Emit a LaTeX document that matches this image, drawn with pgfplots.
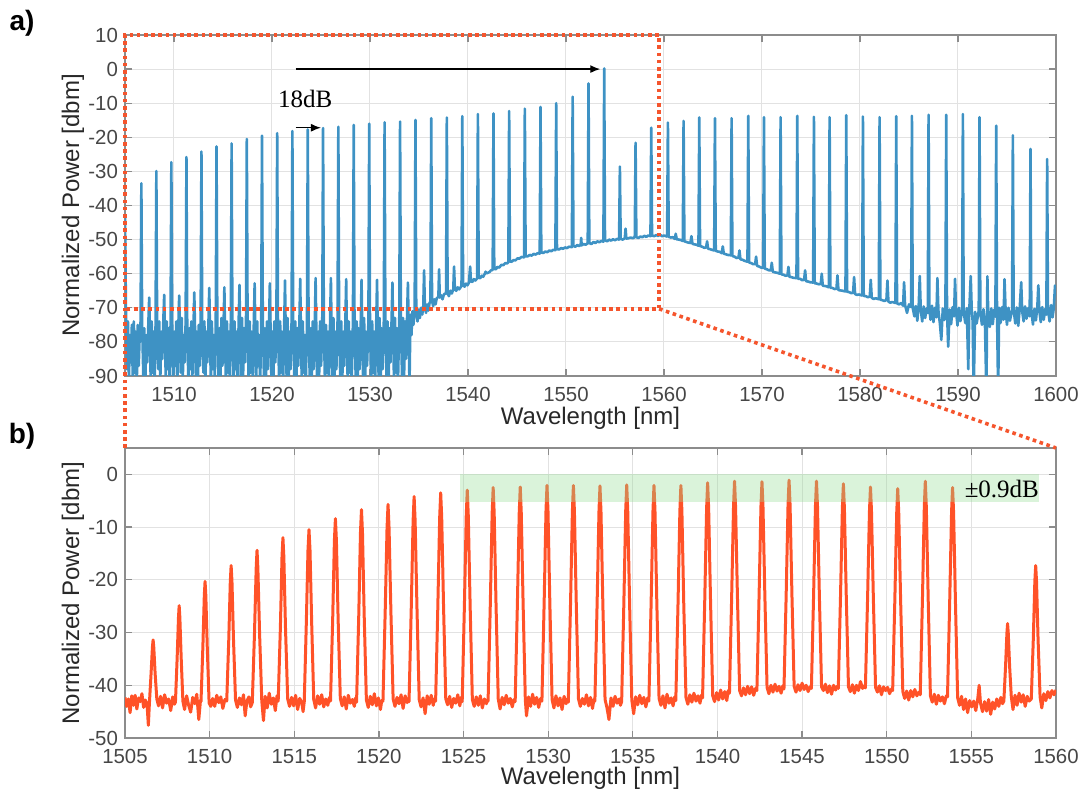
\documentclass[border=0pt]{standalone}
\usepackage{fontspec}
\setmainfont{Liberation Sans}
\newfontfamily\annfont{Liberation Serif}
\usepackage{pgfplots}
\pgfplotsset{compat=1.18}
\usetikzlibrary{arrows.meta}

\definecolor{tickgray}{RGB}{70,70,70}
\definecolor{labgray}{RGB}{40,40,40}
\definecolor{axgray}{RGB}{140,140,140}
\definecolor{gridgray}{RGB}{226,226,226}
\definecolor{specblue}{RGB}{62,146,196}
\definecolor{specred}{RGB}{255,82,40}
\definecolor{dotred}{RGB}{245,85,45}
\definecolor{bandgreen}{RGB}{150,220,150}

\pgfplotsset{
  spec/.style={
    scale only axis, anchor=south west,
    axis line style={axgray, line width=0.6pt},
    grid=major, major grid style={gridgray, line width=0.5pt},
    tick align=inside, major tick length=3.5pt,
    tick style={axgray, line width=0.6pt},
    tick label style={font=\fontsize{10.2}{12}\selectfont, text=tickgray},
    xticklabel style={yshift=-2pt},
    label style={font=\fontsize{12}{14}\selectfont, text=labgray},
    /pgf/number format/assume math mode=true,
    /pgf/number format/1000 sep={},
  },
}

\begin{document}
\begin{tikzpicture}
\path[use as bounding box] (0,0) rectangle (539pt,396pt);
\node[font=\bfseries\fontsize{14}{16}\selectfont] at (11pt,384.5pt) {a)};
\node[font=\bfseries\fontsize{14}{16}\selectfont] at (11pt,178pt) {b)};

% ---------------- panel a ----------------
\begin{axis}[spec,
  at={(62.5pt,208pt)}, width=465.5pt, height=170.5pt,
  xmin=1505, xmax=1600, ymin=-90, ymax=10,
  xtick={1510,1520,...,1600}, ytick={-90,-80,...,10},
  xlabel={Wavelength [nm]}, ylabel={Normalized Power [dbm]},
  xlabel style={at={(axis description cs:0.5,-0.123)}, anchor=center},
  ylabel style={at={(axis description cs:-0.056,0.5)}, anchor=center},
]
\addplot[specblue, line width=1.3pt, line join=round] coordinates {
(1505.0,-43)(1505.06,-60)(1505.12,-76)(1505.2,-88)(1505.3,-74)(1505.4,-91)(1505.5,-78)(1505.6,-86)(1505.7,-75)(1505.8,-92)(1505.9,-74)(1506.0,-89)(1506.1,-77)(1506.2,-93)(1506.3,-75)(1506.4,-87)(1506.5,-78)(1506.59,-74)
(1506.67,-33.5)(1506.75,-75)
(1506.87,-90)(1506.97,-76)(1507.07,-93)(1507.17,-78)(1507.27,-86)(1507.39,-74)(1507.47,-67)(1507.53,-75)(1507.62,-91)(1507.72,-74)(1507.82,-89)(1507.92,-77)(1508.02,-93)(1508.12,-75)
(1508.20,-29.9)(1508.28,-76)
(1508.40,-88)(1508.50,-74)(1508.60,-92)(1508.70,-77)(1508.80,-85)(1508.92,-73)(1509.00,-66.2)(1509.06,-75)(1509.16,-91)(1509.26,-74)(1509.36,-88)(1509.46,-76)(1509.56,-93)(1509.65,-75)
(1509.73,-27.3)(1509.81,-74)
(1509.93,-91)(1510.03,-77)(1510.13,-87)(1510.23,-74)(1510.33,-93)(1510.45,-75)(1510.53,-66.4)(1510.59,-76)(1510.69,-89)(1510.79,-73)(1510.89,-92)(1510.99,-78)(1511.09,-86)(1511.19,-74)
(1511.27,-25.8)(1511.35,-75)
(1511.47,-92)(1511.57,-76)(1511.67,-88)(1511.77,-74)(1511.87,-91)(1511.99,-76)(1512.07,-65.5)(1512.13,-74)(1512.23,-90)(1512.33,-77)(1512.43,-93)(1512.53,-75)(1512.63,-87)(1512.72,-74)
(1512.80,-24.2)(1512.88,-76)
(1513.00,-89)(1513.10,-74)(1513.20,-93)(1513.30,-77)(1513.40,-86)(1513.52,-74)(1513.60,-64.2)(1513.66,-75)(1513.76,-92)(1513.86,-74)(1513.96,-88)(1514.06,-78)(1514.16,-91)(1514.26,-75)
(1514.34,-22.7)(1514.42,-74)
(1514.54,-90)(1514.64,-76)(1514.74,-92)(1514.84,-73)(1514.94,-87)(1515.06,-75)(1515.14,-64.0)(1515.20,-76)(1515.30,-93)(1515.40,-74)(1515.50,-89)(1515.60,-77)(1515.70,-92)(1515.80,-74)
(1515.88,-21.8)(1515.96,-75)
(1516.08,-91)(1516.18,-74)(1516.28,-88)(1516.38,-77)(1516.48,-93)(1516.60,-74)(1516.68,-63.3)(1516.74,-75)(1516.84,-90)(1516.94,-73)(1517.04,-92)(1517.14,-76)(1517.24,-86)(1517.35,-74)
(1517.43,-20.5)(1517.51,-76)
(1517.63,-93)(1517.73,-74)(1517.83,-89)(1517.93,-77)(1518.03,-91)(1518.15,-74)(1518.23,-62.8)(1518.29,-75)(1518.39,-92)(1518.49,-74)(1518.59,-87)(1518.69,-78)(1518.79,-93)(1518.90,-75)
(1518.98,-19.5)(1519.06,-74)
(1519.18,-90)(1519.28,-76)(1519.38,-93)(1519.48,-74)(1519.58,-88)(1519.70,-75)(1519.78,-62.8)(1519.84,-74)(1519.94,-91)(1520.04,-77)(1520.14,-92)(1520.24,-74)(1520.34,-86)(1520.45,-75)
(1520.53,-18.8)(1520.61,-75)
(1520.73,-92)(1520.83,-74)(1520.93,-89)(1521.03,-77)(1521.13,-93)(1521.25,-74)(1521.33,-62.0)(1521.39,-76)(1521.49,-90)(1521.59,-73)(1521.69,-92)(1521.79,-77)(1521.89,-88)(1522.00,-74)
(1522.08,-18.2)(1522.16,-75)
(1522.28,-91)(1522.38,-74)(1522.48,-93)(1522.58,-76)(1522.68,-87)(1522.80,-74)(1522.88,-61.5)(1522.94,-75)(1523.04,-92)(1523.14,-74)(1523.24,-89)(1523.34,-78)(1523.44,-93)(1523.57,-75)
(1523.65,-17.7)(1523.73,-74)
(1523.85,-90)(1523.95,-76)(1524.05,-92)(1524.15,-74)(1524.25,-88)(1524.37,-75)(1524.45,-61.3)(1524.51,-74)(1524.61,-93)(1524.71,-77)(1524.81,-90)(1524.91,-74)(1525.01,-87)(1525.13,-75)
(1525.21,-17.3)(1525.29,-74)
(1525.41,-93)(1525.51,-75)(1525.61,-89)(1525.71,-77)(1525.81,-92)(1525.93,-74)(1526.01,-61.3)(1526.07,-75)(1526.17,-90)(1526.27,-73)(1526.37,-93)(1526.47,-77)(1526.57,-88)(1526.69,-74)
(1526.77,-16.9)(1526.85,-75)
(1526.97,-91)(1527.07,-74)(1527.17,-92)(1527.27,-77)(1527.37,-87)(1527.49,-74)(1527.57,-61.6)(1527.63,-75)(1527.73,-93)(1527.83,-74)(1527.93,-89)(1528.03,-77)(1528.13,-92)(1528.26,-74)
(1528.34,-16.4)(1528.42,-75)
(1528.54,-90)(1528.64,-74)(1528.74,-93)(1528.84,-76)(1528.94,-88)(1529.06,-74)(1529.14,-61.8)(1529.20,-75)(1529.30,-91)(1529.40,-73)(1529.50,-92)(1529.60,-77)(1529.70,-87)(1529.84,-74)
(1529.92,-16.0)(1530.00,-75)
(1530.12,-92)(1530.22,-74)(1530.32,-89)(1530.42,-77)(1530.52,-93)(1530.64,-74)(1530.72,-61.8)(1530.78,-75)(1530.88,-90)(1530.98,-73)(1531.08,-93)(1531.18,-76)(1531.28,-88)(1531.41,-74)
(1531.49,-15.6)(1531.57,-75)
(1531.69,-91)(1531.79,-74)(1531.89,-93)(1531.99,-76)(1532.09,-86)(1532.21,-73)(1532.29,-62.6)(1532.35,-74)(1532.45,-92)(1532.55,-73)(1532.65,-89)(1532.75,-76)(1532.85,-93)(1532.99,-73)
(1533.07,-15.4)(1533.15,-74)
(1533.27,-90)(1533.37,-73)(1533.47,-92)(1533.57,-74)(1533.67,-85)(1533.79,-72)(1533.87,-62.6)(1533.93,-73)(1534.03,-93)(1534.13,-72)(1534.23,-78)(1534.33,-71)(1534.43,-75)(1534.56,-71)
(1534.64,-14.9)(1534.72,-71)
(1534.85,-74)(1534.97,-70.5)(1535.09,-73)(1535.21,-70)(1535.33,-72)(1535.44,-69.6)(1535.52,-59.0)(1535.60,-70)(1535.72,-71.5)(1535.84,-69)(1535.96,-70.8)(1536.08,-68.5)(1536.17,-68.3)
(1536.25,-14.4)(1536.33,-68)
(1536.45,-69.5)(1536.57,-67.5)(1536.69,-69)(1536.81,-67.2)(1536.98,-66.8)(1537.05,-58.7)(1537.12,-67)(1537.25,-66.3)(1537.40,-67.5)(1537.55,-66.0)(1537.76,-65.8)
(1537.84,-14.2)(1537.92,-65.6)
(1538.05,-66.6)(1538.2,-65.0)(1538.35,-65.8)(1538.5,-64.5)(1538.58,-57.9)(1538.66,-64.6)(1538.8,-65.0)(1538.95,-64.0)(1539.1,-64.6)(1539.34,-63.6)
(1539.42,-13.8)(1539.50,-63.4)
(1539.65,-63.8)(1539.8,-62.9)(1539.95,-63.4)(1540.1,-62.6)(1540.22,-57.9)(1540.3,-62.3)(1540.45,-62.4)(1540.6,-61.6)(1540.75,-62.0)(1540.93,-61.4)
(1541.01,-13.2)(1541.09,-61.2)
(1541.25,-61.3)(1541.4,-60.6)(1541.55,-60.9)(1541.72,-60.0)(1541.8,-59.4)(1541.88,-59.9)(1542.05,-59.7)(1542.2,-59.5)(1542.35,-59.0)(1542.52,-58.9)
(1542.6,-13.0)(1542.68,-58.6)
(1542.85,-58.7)(1543.0,-58.0)(1543.2,-58.2)(1543.4,-57.4)(1543.6,-57.5)(1543.8,-56.9)(1544.0,-57.0)(1544.12,-56.6)
(1544.2,-12.3)(1544.28,-56.4)
(1544.45,-56.5)(1544.65,-56.0)(1544.85,-56.1)(1545.05,-55.5)(1545.25,-55.6)(1545.45,-55.1)(1545.72,-55.2)
(1545.8,-11.6)(1545.88,-54.9)
(1546.1,-54.9)(1546.3,-54.5)(1546.5,-54.7)(1546.7,-54.2)(1546.9,-54.4)(1547.1,-54.0)(1547.32,-54.1)
(1547.4,-11.1)(1547.48,-53.8)
(1547.7,-53.9)(1547.9,-53.5)(1548.1,-53.7)(1548.3,-53.2)(1548.5,-53.4)(1548.7,-53.0)(1548.92,-53.1)
(1549.0,-10.0)(1549.08,-52.8)
(1549.3,-52.9)(1549.5,-52.5)(1549.7,-52.7)(1549.9,-52.3)(1550.1,-52.5)(1550.3,-52.1)(1550.6,-52.2)
(1550.68,-8.1)(1550.76,-51.9)
(1550.95,-52.1)(1551.15,-51.6)(1551.35,-51.9)(1551.5,-51.5)(1551.55,-49.5)(1551.6,-51.7)(1551.8,-51.3)(1552.0,-51.5)(1552.22,-51.1)
(1552.3,-4.2)(1552.38,-51.0)
(1552.6,-51.3)(1552.8,-50.7)(1553.0,-51.0)(1553.2,-50.5)(1553.4,-50.8)(1553.6,-50.4)(1553.82,-50.6)
(1553.9,0.2)(1553.98,-50.2)
(1554.2,-50.5)(1554.4,-50.0)(1554.6,-50.3)(1554.8,-49.9)(1555.0,-50.2)(1555.2,-49.8)(1555.42,-50.0)
(1555.5,-28.6)(1555.58,-49.8)
(1555.8,-50.0)(1556.0,-49.6)(1556.08,-46.8)(1556.16,-49.7)(1556.4,-49.6)(1556.6,-49.4)(1556.8,-49.6)(1557.02,-49.3)
(1557.1,-21.6)(1557.18,-49.3)
(1557.4,-49.5)(1557.6,-49.1)(1557.8,-49.3)(1558.0,-48.9)(1558.2,-49.2)(1558.4,-48.8)(1558.62,-49.0)
(1558.7,-17.2)(1558.78,-48.8)
(1559.0,-49.0)(1559.2,-48.7)(1559.4,-48.9)(1559.6,-48.6)(1559.8,-49.0)(1560.0,-48.8)(1560.32,-49.1)
(1560.4,-15.7)(1560.48,-49.2)
(1560.7,-49.4)(1560.9,-49.3)(1561.1,-49.8)(1561.2,-48.3)(1561.3,-49.9)(1561.5,-50.0)(1561.7,-50.1)(1561.92,-50.4)
(1562.0,-15.2)(1562.08,-50.5)
(1562.3,-50.7)(1562.5,-50.9)(1562.7,-51.0)(1562.8,-49.0)(1562.9,-51.2)(1563.1,-51.4)(1563.3,-51.5)(1563.52,-51.8)
(1563.6,-14.2)(1563.68,-51.9)
(1563.9,-52.1)(1564.1,-52.4)(1564.3,-52.3)(1564.4,-50.5)(1564.5,-52.7)(1564.7,-52.8)(1564.9,-53.0)(1565.12,-53.2)
(1565.2,-14.4)(1565.28,-53.3)
(1565.5,-53.5)(1565.7,-53.6)(1565.9,-54.0)(1566.0,-52.0)(1566.1,-54.1)(1566.3,-54.3)(1566.5,-54.5)(1566.82,-54.6)
(1566.9,-14.4)(1566.98,-54.8)
(1567.2,-55.0)(1567.4,-55.4)(1567.6,-55.3)(1567.7,-53.2)(1567.8,-55.8)(1568.0,-55.9)(1568.2,-56.2)(1568.52,-56.5)
(1568.6,-13.7)(1568.68,-56.7)
(1568.9,-56.9)(1569.1,-57.2)(1569.3,-57.2)(1569.4,-55.0)(1569.5,-57.7)(1569.7,-57.9)(1569.9,-58.2)(1570.12,-58.3)
(1570.2,-14.1)(1570.28,-58.5)
(1570.5,-58.7)(1570.7,-59.0)(1570.9,-59.0)(1571.0,-56.8)(1571.1,-59.4)(1571.3,-59.6)(1571.5,-59.7)(1571.82,-60.0)
(1571.9,-14.1)(1571.98,-60.2)
(1572.2,-60.3)(1572.4,-60.6)(1572.6,-60.5)(1572.7,-58.0)(1572.8,-60.9)(1573.0,-61.0)(1573.2,-61.2)(1573.52,-61.3)
(1573.6,-13.7)(1573.68,-61.5)
(1573.9,-61.5)(1574.1,-61.9)(1574.3,-61.8)(1574.4,-59.0)(1574.5,-62.2)(1574.7,-62.3)(1574.9,-62.5)(1575.22,-62.6)
(1575.3,-14.0)(1575.38,-62.8)
(1575.6,-62.9)(1575.8,-63.1)(1576.0,-63.0)(1576.1,-60.0)(1576.2,-63.5)(1576.4,-63.6)(1576.6,-63.7)(1576.82,-64.0)
(1576.9,-14.1)(1576.98,-64.1)
(1577.2,-64.2)(1577.4,-64.5)(1577.6,-64.4)(1577.7,-60.5)(1577.8,-64.8)(1578.0,-64.9)(1578.2,-65.0)(1578.52,-65.2)
(1578.6,-13.5)(1578.68,-65.3)
(1578.9,-65.4)(1579.1,-65.7)(1579.3,-65.6)(1579.4,-61.0)(1579.5,-66.0)(1579.7,-66.2)(1579.9,-66.1)(1580.22,-66.4)
(1580.3,-13.9)(1580.38,-66.5)
(1580.6,-66.6)(1580.8,-66.9)(1581.0,-66.7)(1581.1,-61.8)(1581.2,-67.1)(1581.4,-67.4)(1581.6,-67.2)(1581.92,-67.5)
(1582.0,-14.1)(1582.08,-67.6)
(1582.3,-67.8)(1582.5,-68.0)(1582.7,-67.7)(1582.8,-62.0)(1582.9,-68.2)(1583.1,-68.5)(1583.3,-68.3)(1583.62,-68.6)
(1583.7,-13.8)(1583.78,-68.7)
(1584.0,-69.0)(1584.2,-68.6)(1584.4,-69.4)(1584.5,-62.5)(1584.6,-69.2)(1584.8,-71.5)(1585.0,-69.0)(1585.22,-69.8)
(1585.3,-13.7)(1585.38,-70.0)
(1585.55,-72.5)(1585.7,-69.5)(1585.85,-73.8)(1586.0,-68.8)(1586.1,-60.7)(1586.2,-70.5)(1586.35,-74.0)(1586.5,-69.6)(1586.65,-73.0)(1586.8,-70.2)(1586.92,-71.5)
(1587.0,-13.4)(1587.08,-70.5)
(1587.2,-73.5)(1587.35,-69.4)(1587.5,-74.2)(1587.65,-70.0)(1587.8,-72.8)(1587.9,-61.3)(1588.0,-70.8)(1588.15,-74.5)(1588.3,-79.4)(1588.45,-70.2)(1588.6,-73.6)(1588.72,-71.0)
(1588.8,-13.4)(1588.88,-71.0)
(1589.0,-81.4)(1589.15,-70.5)(1589.3,-74.8)(1589.45,-69.8)(1589.6,-72.5)(1589.7,-61.5)(1589.8,-70.9)(1589.95,-75.2)(1590.1,-70.0)(1590.25,-73.9)(1590.42,-70.6)
(1590.5,-13.2)(1590.58,-71.2)
(1590.75,-74.5)(1590.9,-70.1)(1591.05,-88)(1591.15,-71.0)(1591.3,-60.7)(1591.4,-70.5)(1591.5,-74.0)(1591.6,-95)(1591.75,-71.2)(1591.9,-74.6)(1592.12,-70.8)
(1592.2,-14.1)(1592.28,-71.5)
(1592.45,-75.0)(1592.6,-70.4)(1592.75,-74.2)(1592.9,-95)(1593.0,-60.8)(1593.08,-70.9)(1593.25,-75.6)(1593.4,-70.2)(1593.55,-74.8)(1593.7,-70.5)(1593.82,-72.6)
(1593.9,-16.6)(1593.98,-70.8)
(1594.1,-95)(1594.2,-70.0)(1594.35,-74.4)(1594.5,-69.8)(1594.65,-73.5)(1594.75,-61.6)(1594.85,-70.2)(1595.0,-75.0)(1595.15,-70.0)(1595.3,-73.8)(1595.52,-70.6)
(1595.6,-19.4)(1595.68,-70.5)
(1595.85,-74.6)(1596.0,-69.9)(1596.15,-75.3)(1596.3,-70.2)(1596.45,-62.5)(1596.55,-71.0)(1596.7,-74.0)(1596.85,-69.6)(1597.0,-73.2)(1597.15,-70.1)(1597.32,-72.5)
(1597.4,-23.4)(1597.48,-70.4)
(1597.65,-74.9)(1597.8,-70.3)(1597.95,-73.7)(1598.1,-69.6)(1598.2,-63.4)(1598.3,-70.8)(1598.45,-74.2)(1598.6,-69.8)(1598.75,-73.5)(1598.9,-70.3)(1599.02,-72.0)
(1599.1,-26.4)(1599.18,-70.5)
(1599.35,-74.0)(1599.5,-69.2)(1599.65,-72.8)(1599.78,-70.0)(1599.9,-63.5)(1600.0,-64.0)
};
\draw[-{Latex[length=5pt,width=4pt]}, black, line width=0.7pt] (axis cs:1522.4,0) -- (axis cs:1553.5,0);
\draw[-{Latex[length=5pt,width=4pt]}, black, line width=0.7pt] (axis cs:1522.4,-17.2) -- (axis cs:1525.0,-17.2);
\node[font=\annfont\fontsize{12.5}{14}\selectfont] at (axis cs:1523.4,-8.8) {18dB};
\coordinate (a1) at (axis cs:1505,10);
\coordinate (a2) at (axis cs:1559.5,10);
\coordinate (a3) at (axis cs:1559.5,-70.3);
\coordinate (a4) at (axis cs:1505,-70.3);
\end{axis}

% ---------------- panel b ----------------
\begin{axis}[spec,
  at={(62.5pt,27pt)}, width=465.5pt, height=145pt,
  xmin=1505, xmax=1560, ymin=-50, ymax=5,
  xtick={1505,1510,...,1560}, ytick={-50,-40,...,0},
  xlabel={Wavelength [nm]}, ylabel={Normalized Power [dbm]},
  xlabel style={at={(axis description cs:0.5,-0.138)}, anchor=center},
  ylabel style={at={(axis description cs:-0.056,0.5)}, anchor=center},
]
\addplot[specred, line width=1.5pt, line join=round] coordinates {
(1505.0,-42.3)(1505.1,-44.0)(1505.2,-42.6)(1505.3,-45.2)(1505.4,-42.0)(1505.5,-43.8)(1505.6,-41.9)(1505.7,-44.5)(1505.8,-42.4)(1505.9,-43.1)(1506.0,-41.6)(1506.1,-44.2)(1506.2,-42.8)(1506.3,-43.5)(1506.38,-47.6)
(1506.44,-43.5)(1506.54,-37.8)(1506.62,-32.8)(1506.66,-31.4)(1506.70,-32.8)(1506.78,-37.8)(1506.88,-42.6)
(1506.98,-43.9)(1507.1,-42.1)(1507.22,-44.3)(1507.34,-41.8)(1507.46,-43.4)(1507.58,-42.6)(1507.70,-44.8)(1507.82,-42.2)(1507.92,-43.6)
(1507.98,-43.2)(1508.08,-34.9)(1508.16,-27.1)(1508.20,-24.9)(1508.24,-27.1)(1508.32,-34.9)(1508.42,-43.0)
(1508.52,-44.6)(1508.64,-42.0)(1508.76,-43.8)(1508.88,-45.1)(1509.0,-42.3)(1509.12,-43.5)(1509.24,-41.7)(1509.36,-46.5)(1509.46,-42.8)
(1509.49,-43.1)(1509.60,-32.8)(1509.685,-23.0)(1509.73,-20.3)(1509.775,-23.0)(1509.86,-32.8)(1509.97,-43.4)
(1510.07,-44.0)(1510.18,-42.5)(1510.3,-44.0)(1510.42,-41.9)(1510.54,-43.3)(1510.66,-42.2)(1510.78,-44.4)(1510.9,-42.7)
(1511.01,-43.0)(1511.13,-31.4)(1511.22,-20.4)(1511.27,-17.3)(1511.32,-20.4)(1511.41,-31.4)(1511.53,-42.8)
(1511.64,-44.2)(1511.76,-42.4)(1511.88,-43.7)(1512.0,-41.8)(1512.1,-45.8)(1512.2,-43.0)(1512.32,-42.2)(1512.42,-44.1)
(1512.52,-43.3)(1512.65,-30.1)(1512.75,-17.8)(1512.80,-14.4)(1512.85,-17.8)(1512.95,-30.1)(1513.08,-42.9)
(1513.18,-46.7)(1513.28,-42.1)(1513.4,-44.3)(1513.52,-41.5)(1513.64,-43.6)(1513.76,-42.4)(1513.88,-44.8)(1513.98,-42.0)
(1514.05,-43.0)(1514.18,-29.0)(1514.275,-15.7)(1514.33,-12.0)(1514.385,-15.7)(1514.48,-29.0)(1514.61,-42.6)
(1514.72,-44.0)(1514.84,-42.3)(1514.96,-43.9)(1515.08,-41.9)(1515.2,-44.6)(1515.32,-42.5)(1515.44,-43.2)(1515.52,-45.0)
(1515.59,-43.1)(1515.71,-28.4)(1515.81,-14.4)(1515.87,-10.5)(1515.93,-14.4)(1516.03,-28.4)(1516.15,-42.7)
(1516.26,-44.3)(1516.38,-42.0)(1516.5,-43.6)(1516.62,-41.8)(1516.74,-44.1)(1516.86,-42.6)(1516.98,-43.8)(1517.08,-42.3)
(1517.14,-43.0)(1517.27,-27.4)(1517.37,-12.6)(1517.43,-8.4)(1517.49,-12.6)(1517.59,-27.4)(1517.72,-42.5)
(1517.83,-43.9)(1517.95,-42.2)(1518.07,-44.5)(1518.19,-41.9)(1518.31,-43.4)(1518.43,-42.7)(1518.55,-44.0)(1518.62,-42.4)
(1518.68,-43.2)(1518.81,-26.7)(1518.91,-11.1)(1518.97,-6.7)(1519.03,-11.1)(1519.13,-26.7)(1519.26,-42.8)
(1519.37,-44.2)(1519.49,-42.1)(1519.61,-43.7)(1519.73,-41.6)(1519.85,-43.9)(1519.97,-42.4)(1520.09,-44.6)(1520.17,-42.9)
(1520.24,-43.0)(1520.37,-26.2)(1520.48,-10.2)(1520.54,-5.7)(1520.60,-10.2)(1520.71,-26.2)(1520.84,-42.6)
(1520.95,-44.0)(1521.07,-42.3)(1521.19,-43.5)(1521.31,-41.8)(1521.43,-44.4)(1521.55,-42.0)(1521.67,-43.3)(1521.73,-42.5)
(1521.78,-43.1)(1521.91,-25.5)(1522.02,-8.9)(1522.08,-4.2)(1522.14,-8.9)(1522.25,-25.5)(1522.38,-42.7)
(1522.49,-44.1)(1522.61,-42.4)(1522.73,-45.4)(1522.85,-42.0)(1522.97,-43.6)(1523.09,-41.9)(1523.21,-43.8)(1523.28,-42.6)
(1523.35,-43.0)(1523.48,-25.2)(1523.59,-8.2)(1523.65,-3.5)(1523.71,-8.2)(1523.82,-25.2)(1523.95,-42.6)
(1524.06,-43.7)(1524.18,-42.1)(1524.3,-44.2)(1524.42,-42.5)(1524.54,-43.4)(1524.66,-41.8)(1524.78,-43.9)(1524.86,-42.3)
(1524.92,-43.1)(1525.05,-25.0)(1525.16,-7.8)(1525.22,-3.0)(1525.28,-7.8)(1525.39,-25.0)(1525.52,-42.7)
(1525.63,-44.0)(1525.75,-42.2)(1525.87,-43.8)(1525.99,-42.0)(1526.11,-44.3)(1526.23,-42.6)(1526.35,-43.5)(1526.40,-42.8)
(1526.45,-43.0)(1526.58,-24.8)(1526.69,-7.4)(1526.75,-2.5)(1526.81,-7.4)(1526.92,-24.8)(1527.05,-42.6)
(1527.16,-44.5)(1527.28,-42.3)(1527.4,-43.7)(1527.52,-41.9)(1527.64,-43.4)(1527.76,-42.5)(1527.88,-44.1)(1527.98,-42.7)
(1528.05,-43.1)(1528.18,-24.7)(1528.29,-7.3)(1528.35,-2.4)(1528.41,-7.3)(1528.52,-24.7)(1528.65,-42.8)
(1528.72,-45.8)(1528.84,-42.2)(1528.96,-44.0)(1529.08,-41.7)(1529.2,-43.6)(1529.32,-42.3)(1529.44,-44.2)(1529.55,-42.5)
(1529.63,-43.0)(1529.76,-24.6)(1529.87,-7.0)(1529.93,-2.1)(1529.99,-7.0)(1530.10,-24.6)(1530.23,-42.7)
(1530.34,-44.3)(1530.46,-42.0)(1530.58,-43.9)(1530.70,-42.4)(1530.82,-44.6)(1530.94,-42.1)(1531.06,-43.5)(1531.13,-42.6)
(1531.19,-43.2)(1531.32,-24.6)(1531.43,-7.0)(1531.49,-2.1)(1531.55,-7.0)(1531.66,-24.6)(1531.79,-42.6)
(1531.9,-44.0)(1532.02,-42.5)(1532.14,-43.6)(1532.26,-41.8)(1532.38,-43.9)(1532.5,-42.3)(1532.62,-44.4)(1532.7,-42.7)
(1532.76,-43.0)(1532.89,-24.6)(1533.00,-7.1)(1533.06,-2.2)(1533.12,-7.1)(1533.23,-24.6)(1533.36,-42.7)
(1533.47,-44.2)(1533.59,-46.5)(1533.71,-42.4)(1533.83,-44.0)(1533.95,-42.1)(1534.07,-43.4)(1534.19,-42.6)(1534.27,-43.8)
(1534.34,-43.1)(1534.47,-24.5)(1534.58,-6.9)(1534.64,-2.0)(1534.70,-6.9)(1534.81,-24.5)(1534.94,-42.8)
(1535.05,-45.4)(1535.17,-42.2)(1535.29,-43.7)(1535.41,-41.9)(1535.53,-43.5)(1535.65,-42.3)(1535.77,-44.1)(1535.88,-42.4)
(1535.95,-43.0)(1536.08,-24.6)(1536.19,-7.0)(1536.25,-2.1)(1536.31,-7.0)(1536.42,-24.6)(1536.55,-42.5)
(1536.66,-43.8)(1536.78,-42.0)(1536.9,-44.3)(1537.02,-41.7)(1537.14,-43.4)(1537.26,-42.4)(1537.38,-43.9)(1537.47,-42.2)
(1537.54,-42.9)(1537.67,-24.6)(1537.78,-7.0)(1537.84,-2.1)(1537.90,-7.0)(1538.01,-24.6)(1538.14,-42.3)
(1538.25,-43.6)(1538.37,-41.8)(1538.49,-43.2)(1538.61,-41.5)(1538.73,-43.0)(1538.85,-42.0)(1538.97,-43.4)(1539.05,-41.9)
(1539.12,-42.4)(1539.25,-23.8)(1539.36,-6.4)(1539.42,-1.6)(1539.48,-6.4)(1539.59,-23.8)(1539.72,-42.0)
(1539.83,-43.1)(1539.95,-41.4)(1540.07,-42.8)(1540.19,-40.9)(1540.31,-42.6)(1540.43,-41.2)(1540.55,-42.9)(1540.64,-41.0)
(1540.71,-41.5)(1540.84,-23.1)(1540.95,-6.1)(1541.01,-1.3)(1541.07,-6.1)(1541.18,-23.1)(1541.31,-41.0)
(1541.42,-42.0)(1541.54,-40.5)(1541.66,-41.8)(1541.78,-40.2)(1541.9,-41.6)(1542.02,-40.3)(1542.14,-41.9)(1542.25,-40.6)
(1542.33,-41.0)(1542.46,-22.9)(1542.57,-6.1)(1542.63,-1.4)(1542.69,-6.1)(1542.80,-22.9)(1542.93,-40.4)
(1543.04,-41.6)(1543.16,-40.0)(1543.28,-41.3)(1543.40,-39.8)(1543.52,-41.1)(1543.64,-40.2)(1543.76,-41.5)(1543.86,-40.1)
(1543.93,-40.7)(1544.06,-22.8)(1544.17,-5.8)(1544.23,-1.1)(1544.29,-5.8)(1544.40,-22.8)(1544.53,-40.2)
(1544.64,-41.3)(1544.76,-39.9)(1544.88,-41.0)(1545.0,-39.6)(1545.12,-40.8)(1545.24,-40.0)(1545.36,-41.2)(1545.47,-40.3)
(1545.55,-40.6)(1545.68,-22.9)(1545.79,-6.0)(1545.85,-1.3)(1545.91,-6.0)(1546.02,-22.9)(1546.15,-40.3)
(1546.26,-41.0)(1546.38,-39.8)(1546.5,-41.4)(1546.62,-40.1)(1546.74,-41.7)(1546.86,-40.0)(1546.98,-40.9)(1547.07,-40.2)
(1547.14,-40.6)(1547.27,-23.1)(1547.38,-6.4)(1547.44,-1.8)(1547.50,-6.4)(1547.61,-23.1)(1547.74,-40.3)
(1547.85,-41.2)(1547.97,-39.9)(1548.09,-41.5)(1548.21,-40.0)(1548.33,-41.0)(1548.45,-39.3)(1548.57,-40.6)(1548.67,-40.1)
(1548.74,-40.5)(1548.87,-23.4)(1548.98,-7.0)(1549.04,-2.4)(1549.10,-7.0)(1549.21,-23.4)(1549.34,-40.4)
(1549.45,-41.3)(1549.57,-40.1)(1549.69,-41.8)(1549.81,-40.3)(1549.93,-41.0)(1550.05,-40.4)(1550.17,-41.6)(1550.28,-40.7)
(1550.35,-41.0)(1550.48,-23.7)(1550.59,-7.3)(1550.65,-2.7)(1550.71,-7.3)(1550.82,-23.7)(1550.95,-41.2)
(1551.06,-42.5)(1551.18,-41.1)(1551.30,-42.8)(1551.42,-41.0)(1551.54,-42.2)(1551.66,-40.8)(1551.78,-42.0)(1551.9,-41.3)
(1551.98,-41.8)(1552.11,-23.7)(1552.22,-6.2)(1552.28,-1.3)(1552.34,-6.2)(1552.45,-23.7)(1552.58,-42.0)
(1552.69,-43.2)(1552.81,-41.7)(1552.93,-43.6)(1553.05,-41.9)(1553.17,-43.0)(1553.29,-42.2)(1553.41,-43.5)(1553.52,-42.0)
(1553.59,-42.2)(1553.72,-24.2)(1553.83,-7.2)(1553.89,-2.5)(1553.95,-7.2)(1554.06,-24.2)(1554.19,-42.4)
(1554.3,-43.8)(1554.42,-42.1)(1554.54,-44.6)(1554.66,-42.6)(1554.78,-45.2)(1554.9,-42.9)(1555.02,-44.1)(1555.14,-43.0)(1555.26,-44.8)(1555.38,-42.5)(1555.46,-40.0)(1555.54,-43.4)(1555.66,-45.0)(1555.78,-43.1)(1555.9,-44.9)(1556.02,-42.7)(1556.14,-45.5)(1556.26,-43.2)(1556.38,-44.5)(1556.5,-42.6)(1556.62,-44.0)(1556.74,-42.3)(1556.84,-43.5)
(1556.92,-43.0)(1557.02,-36.4)(1557.10,-30.1)(1557.14,-28.3)(1557.18,-30.1)(1557.26,-36.4)(1557.36,-42.2)
(1557.46,-44.6)(1557.58,-41.9)(1557.7,-43.8)(1557.82,-41.5)(1557.94,-43.2)(1558.06,-41.8)(1558.18,-44.0)(1558.3,-42.1)(1558.42,-43.0)
(1558.54,-42.6)(1558.66,-31.2)(1558.75,-20.3)(1558.80,-17.3)(1558.85,-20.3)(1558.94,-31.2)(1559.06,-42.2)
(1559.16,-44.3)(1559.28,-41.6)(1559.4,-42.9)(1559.52,-41.2)(1559.64,-42.4)(1559.76,-41.0)(1559.88,-41.8)(1560.0,-40.9)
};
\fill[bandgreen, opacity=0.35] (axis cs:1524.8,-5.3) rectangle (axis cs:1559,0);
\node[font=\annfont\fontsize{12.5}{14}\selectfont] at (axis cs:1556.8,-2.8) {±0.9dB};
\coordinate (b1) at (rel axis cs:0,1);
\coordinate (b2) at (rel axis cs:1,1);
\end{axis}

% zoom frame and connectors
\draw[dotred, line width=1.8pt, dash pattern=on 1.8pt off 1.8pt] (b1) -- (a1) -- (a2) -- (a3) -- (a4);
\draw[dotred, line width=1.8pt, dash pattern=on 1.8pt off 1.8pt] (a3) -- (b2);
\end{tikzpicture}
\end{document}
